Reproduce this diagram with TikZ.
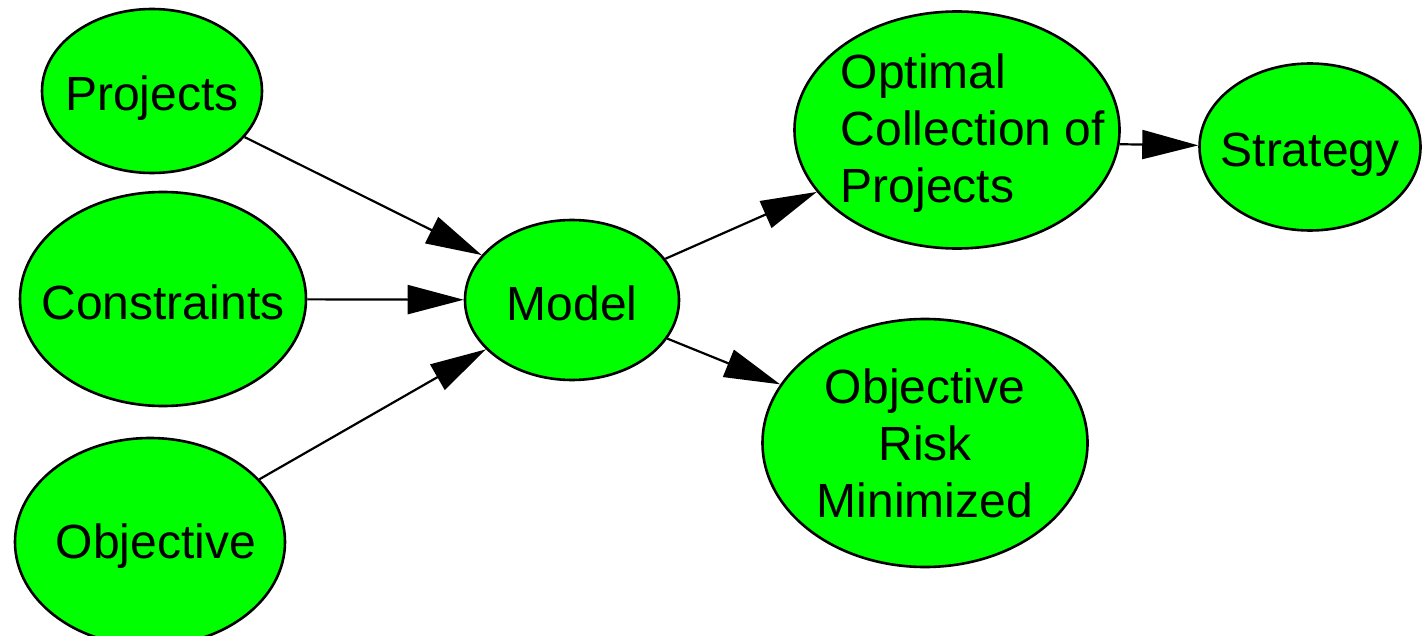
\documentclass[tikz,border=0pt]{standalone}
\usepackage{fontspec}
\setmainfont{Liberation Sans}
\usepackage{tikz}
\usetikzlibrary{arrows.meta,shapes,positioning}
\definecolor{nodegreen}{RGB}{0,255,0}

\begin{document}
\begin{tikzpicture}[x=0.5pt, y=-0.5pt, font=\fontsize{24}{28.5}\selectfont,
    bubble/.style={draw, ellipse, fill=nodegreen, line width=1.3pt, inner sep=0pt},
    tag/.style={text height=25pt, text depth=5pt},
    flow/.style={-{Triangle[length=28pt, width=14.5pt]}, line width=1.1pt}]
    \useasboundingbox (0,0) rectangle (1422,636);

    \node[bubble, minimum width=110pt, minimum height=82pt, label={[tag]center:Projects}] (proj) at (152,91) {};
    \node[bubble, minimum width=143pt, minimum height=107pt, label={[tag]center:Constraints}] (cons) at (163,299) {};
    \node[bubble, minimum width=135pt, minimum height=104pt, label={[tag, xshift=3pt, yshift=2pt]center:Objective}] (obj) at (150,542) {};
    \node[bubble, minimum width=107pt, minimum height=80pt, label={[tag]center:Model}] (model) at (572,300) {};
    \node[bubble, minimum width=162.5pt, minimum height=118.5pt,
      label={[align=left, xshift=8pt, yshift=-1.5pt]center:Optimal\\Collection of\\Projects}] (opt) at (957,130) {};
    \node[bubble, minimum width=162.5pt, minimum height=124pt,
      label={[align=center]center:Objective\\Risk\\Minimized}] (risk) at (925,443) {};
    \node[bubble, minimum width=110.5pt, minimum height=83.5pt, label={[tag]center:Strategy}] (strat) at (1310,147) {};

    \draw[flow] (proj) to (model);
    \draw[flow] (cons) to (model);
    \draw[flow] (obj) to (model);
    \draw[flow] (model) to (opt);
    \draw[flow] (model) to (risk);
    \draw[flow] (opt.-5) to (strat);
\end{tikzpicture}
\end{document}
